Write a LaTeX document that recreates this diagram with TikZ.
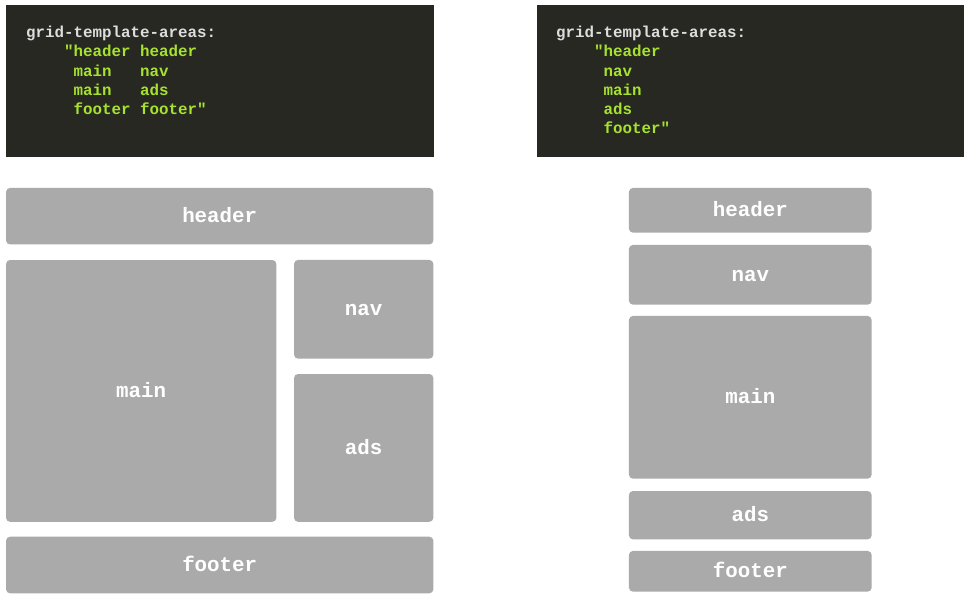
\documentclass[tikz,border=0pt]{standalone}
\usepackage{fontspec}
\newfontfamily\monofont{Liberation Mono}
\definecolor{codebg}{HTML}{272822}
\definecolor{codegreen}{HTML}{A6E22E}
\definecolor{codelight}{HTML}{DDDDDD}
\definecolor{areagray}{HTML}{AAAAAA}
\newcommand{\codefnt}{\monofont\bfseries\fontsize{15.83}{19}\selectfont}
\newcommand{\labelfnt}{\monofont\bfseries\fontsize{20.8}{24}\selectfont}
\begin{document}
\begin{tikzpicture}[x=1pt,y=-1pt,
  area/.style={fill=areagray, rounded corners=4pt, draw=none, inner sep=0pt,
    text=white, font=\labelfnt, text height=13.2pt, text depth=0pt, anchor=center},
  codebox/.style={fill=codebg, draw=none, inner sep=0pt, anchor=center},
  codeline/.style={anchor=base west, inner sep=0pt, font=\codefnt, text=codegreen},
  codehead/.style={codeline, text=codelight}]
\useasboundingbox[fill=white] (0,0) rectangle (970,600);

% code blocks
\node[codebox, minimum width=428pt, minimum height=152pt] (codeL) at (220,81) {};
\node[codebox, minimum width=427pt, minimum height=152pt] (codeR) at (750.5,81) {};

% left code
\node[codehead] (l1) at (26,37.7) {grid-template-areas:};
\node[codeline] (l2) at (64,56.9) {"header~header};
\node[codeline] (l3) at (73.5,76) {main~~~nav};
\node[codeline] (l4) at (73.5,95.2) {main~~~ads};
\node[codeline] (l5) at (73.5,114.3) {footer~footer"};

% right code
\node[codehead] (r1) at (556,37.7) {grid-template-areas:};
\node[codeline] (r2) at (594,56.9) {"header};
\node[codeline] (r3) at (603.5,76) {nav};
\node[codeline] (r4) at (603.5,95.2) {main};
\node[codeline] (r5) at (603.5,114.3) {ads};
\node[codeline] (r6) at (603.5,133.4) {footer"};

% left grid
\node[area, minimum width=427.3pt, minimum height=56.5pt] (lheader) at (219.7,216.2) {header};
\node[area, minimum width=270.3pt, minimum height=261.8pt] (lmain) at (141.2,390.9) {main};
\node[area, minimum width=139.3pt, minimum height=98.7pt] (lnav) at (363.7,309.3) {nav};
\node[area, minimum width=139.3pt, minimum height=147.8pt] (lads) at (363.7,447.9) {ads};
\node[area, minimum width=427.3pt, minimum height=56.6pt] (lfooter) at (219.7,565) {footer};

% right stacked
\node[area, minimum width=242.7pt, minimum height=44.7pt] (rheader) at (750.3,210.3) {header};
\node[area, minimum width=242.7pt, minimum height=59.7pt] (rnav) at (750.3,274.8) {nav};
\node[area, minimum width=242.7pt, minimum height=162.7pt] (rmain) at (750.3,397.3) {main};
\node[area, minimum width=242.7pt, minimum height=48.3pt] (rads) at (750.3,515.2) {ads};
\node[area, minimum width=242.7pt, minimum height=40.7pt] (rfooter) at (750.3,571.3) {footer};
\end{tikzpicture}
\end{document}
